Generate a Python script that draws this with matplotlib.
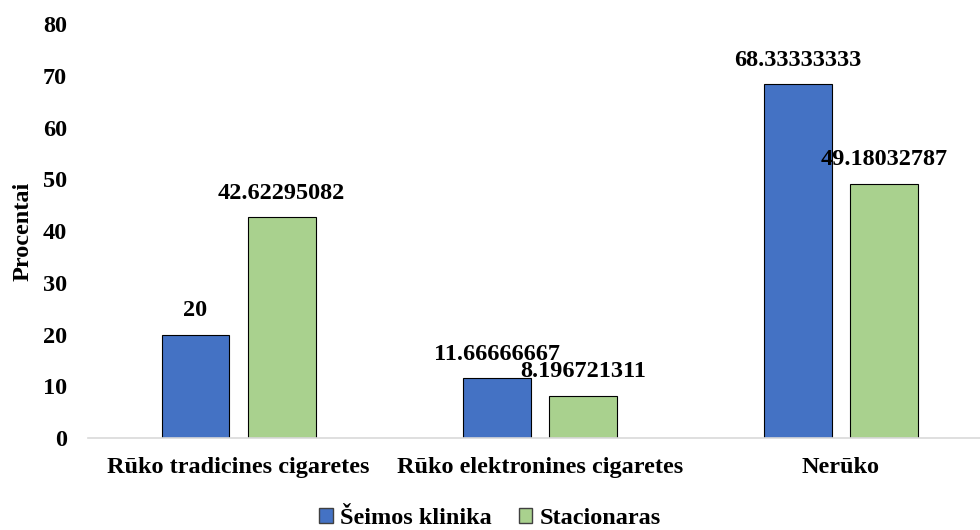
import numpy as np
import matplotlib.pyplot as plt
from matplotlib.patches import Patch

categories = ['Rūko tradicines cigaretes', 'Rūko elektronines cigaretes', 'Nerūko']
seimos = [20, 11.66666667, 68.33333333]
stacionaras = [42.62295082, 8.196721311, 49.18032787]
seimos_labels = ['20', '11.66666667', '68.33333333']
stacionaras_labels = ['42.62295082', '8.196721311', '49.18032787']

plt.rcParams['font.family'] = ['Liberation Serif', 'DejaVu Serif']
plt.rcParams['font.weight'] = 'bold'
FS = 17.5

fig = plt.figure(figsize=(9.8, 5.3), dpi=100)
ax = fig.add_axes([0.0898, 0.1736, 0.922, 0.781])

x = np.arange(len(categories))
w = 0.225
off = 0.143
blue = '#4472C4'
green = '#A9D18E'

b1 = ax.bar(x - off, seimos, w, color=blue, edgecolor='black', linewidth=0.8)
b2 = ax.bar(x + off, stacionaras, w, color=green, edgecolor='black', linewidth=0.8)

for rect, lab in zip(b1, seimos_labels):
    ax.annotate(lab, (rect.get_x() + rect.get_width() / 2, rect.get_height()),
                xytext=(0, 17), textcoords='offset points', ha='center', va='center',
                fontsize=FS, fontweight='bold')
for rect, lab in zip(b2, stacionaras_labels):
    ax.annotate(lab, (rect.get_x() + rect.get_width() / 2, rect.get_height()),
                xytext=(0, 17), textcoords='offset points', ha='center', va='center',
                fontsize=FS, fontweight='bold')

ax.set_xlim(-0.5, 2.5)
ax.set_ylim(0, 80)
ax.set_yticks(range(0, 81, 10))
ax.set_xticks(x)
ax.set_xticklabels(categories, fontsize=FS, fontweight='bold')
ax.tick_params(axis='y', labelsize=FS, length=0, pad=15)
ax.tick_params(axis='x', length=0, pad=14)
for s in ['top', 'right', 'left']:
    ax.spines[s].set_visible(False)
ax.spines['bottom'].set_color('#d9d9d9')
ax.spines['bottom'].set_linewidth(1.2)
ax.set_ylabel('Procentai', fontsize=FS, fontweight='bold', labelpad=7)

handles = [Patch(facecolor=blue, edgecolor='#404040', label='Šeimos klinika'),
           Patch(facecolor=green, edgecolor='#404040', label='Stacionaras')]
fig.legend(handles=handles, loc='lower center', bbox_to_anchor=(0.5, -0.04), ncol=2,
           frameon=False, fontsize=FS, handlelength=0.55, handleheight=0.55,
           handletextpad=0.3, columnspacing=1.1)

fig.savefig('out.png', dpi=100)
